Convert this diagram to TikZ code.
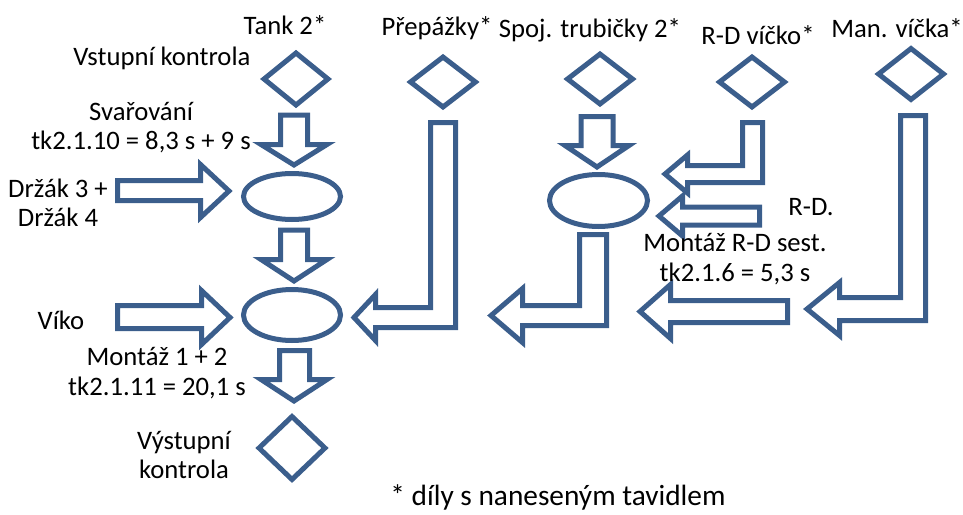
\documentclass[tikz,border=0pt]{standalone}
\usepackage{fontspec}
\setmainfont{Carlito}
\usetikzlibrary{shapes.geometric}
\definecolor{bl}{RGB}{59,94,140}
\begin{document}
\begin{tikzpicture}[x=0.75pt,y=-0.75pt,
  blk/.style={draw=bl,line width=3.75pt,line join=miter},
  dia/.style={blk,shape=diamond,inner sep=0pt},
  ell/.style={blk,shape=ellipse,inner sep=0pt},
  lbl/.style={font=\fontsize{20}{22}\selectfont,align=center,text=black,inner sep=0pt}]
\useasboundingbox (0,0) rectangle (963,514);
% diamonds
\node[dia,minimum width=49.5pt,minimum height=40.5pt] (d1) at (296,79) {};
\node[dia,minimum width=50.25pt,minimum height=39pt] (d2) at (443,82) {};
\node[dia,minimum width=50.25pt,minimum height=39pt] (d3) at (600,79) {};
\node[dia,minimum width=50.25pt,minimum height=39pt] (d4) at (752,82) {};
\node[dia,minimum width=50.25pt,minimum height=39.75pt] (d5) at (911,74) {};
\node[dia,minimum width=51pt,minimum height=48.75pt] (d6) at (292,448) {};
% ellipses
\node[ell,minimum width=72.75pt,minimum height=34.5pt] (e1) at (292,196.5) {};
\node[ell,minimum width=72.75pt,minimum height=38.25pt] (e2) at (292,315) {};
\node[ell,minimum width=73.5pt,minimum height=39pt] (e3) at (598.5,200.5) {};
% down arrows
\draw[blk] (280.5,115)--(307.5,115)--(307.5,144.5)--(327,144.5)--(294,165)--(261,144.5)--(280.5,144.5)--cycle;
\draw[blk] (280.5,230)--(307.5,230)--(307.5,259.5)--(327,259.5)--(294,281)--(261,259.5)--(280.5,259.5)--cycle;
\draw[blk] (279.5,350.5)--(309.5,350.5)--(309.5,379.5)--(327,379.5)--(294,401)--(261,379.5)--(279.5,379.5)--cycle;
\draw[blk] (581,116.5)--(613,116.5)--(613,145.5)--(629,145.5)--(597,167)--(565,145.5)--(581,145.5)--cycle;
% right arrows
\draw[blk] (117.5,180.5)--(200.5,180.5)--(200.5,164.5)--(229,191)--(200.5,217.5)--(200.5,200.5)--(117.5,200.5)--cycle;
\draw[blk] (117.5,305.5)--(201.5,305.5)--(201.5,290.5)--(230,317.5)--(201.5,344.5)--(201.5,328.5)--(117.5,328.5)--cycle;
% L arrows
\draw[blk] (430.5,122.5)--(455.5,122.5)--(455.5,327.5)--(375.5,327.5)--(375.5,340.5)--(354,317.5)--(375.5,294.5)--(375.5,307.5)--(430.5,307.5)--cycle;
\draw[blk] (579.5,234.5)--(606.5,234.5)--(606.5,325.5)--(522.5,325.5)--(522.5,342.5)--(491,315.5)--(522.5,288.5)--(522.5,305.5)--(579.5,305.5)--cycle;
\draw[blk] (900.5,115.5)--(925.5,115.5)--(925.5,320.5)--(839.5,320.5)--(839.5,335.5)--(807,309)--(839.5,282.5)--(839.5,297.5)--(900.5,297.5)--cycle;
\draw[blk] (742.5,122.5)--(762.5,122.5)--(762.5,182.5)--(687.5,182.5)--(687.5,193)--(665,174)--(687.5,155)--(687.5,165.5)--(742.5,165.5)--cycle;
% straight left arrows
\draw[blk] (787.5,300.5)--(670.5,300.5)--(670.5,284.5)--(640,311.5)--(670.5,338.5)--(670.5,322.5)--(787.5,322.5)--cycle;
\draw[blk] (759.5,207)--(682.5,207)--(682.5,196)--(659,216)--(682.5,236)--(682.5,225)--(759.5,225)--cycle;
% labels
\node[lbl] (t1) at (285,25) {Tank 2*};
\node[lbl] (t2) at (162,58) {Vstupní kontrola};
\node[lbl] (t3) at (437,28) {Přepážky*};
\node[lbl] (t4) at (590,30) {Spoj. trubičky 2*};
\node[lbl] (t5) at (758,35) {R-D víčko*};
\node[lbl] (t6) at (897,28) {Man. víčka*};
\node[lbl] (t7) at (141,127.5) {Svařování\\tk2.1.10 = 8,3 s + 9 s};
\node[lbl] (t8) at (58,203) {Držák 3 +\\Držák 4};
\node[lbl] (t9) at (61,320) {Víko};
\node[lbl] (t10) at (157,373) {Montáž 1 + 2\\tk2.1.11 = 20,1 s};
\node[lbl] (t11) at (184,455) {Výstupní\\kontrola};
\node[lbl] (t12) at (811,207) {R-D.};
\node[lbl] (t13) at (735,259) {Montáž R-D sest.\\tk2.1.6 = 5,3 s};
\node[lbl,font=\fontsize{22}{24}\selectfont] (t14) at (558,497) {* díly s naneseným tavidlem};
\end{tikzpicture}
\end{document}
